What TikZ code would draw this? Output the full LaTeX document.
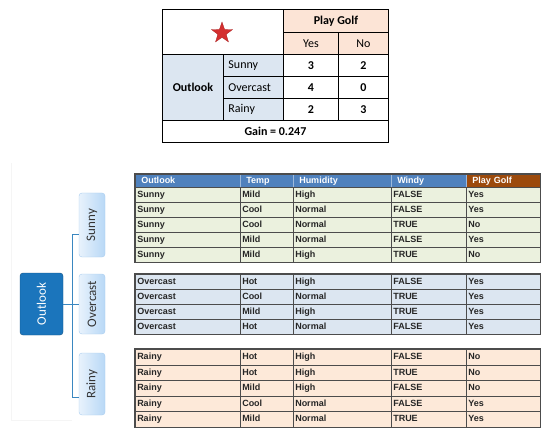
\documentclass[tikz,border=0pt]{standalone}
\usepackage{fontspec}
\setmainfont{Carlito}
\newfontfamily\arialfont{Liberation Sans}
\usetikzlibrary{shapes.geometric}
\definecolor{peach}{HTML}{FCE4D6}
\definecolor{paleblue}{HTML}{DCE6F1}
\definecolor{headblue}{HTML}{4F81BD}
\definecolor{headbrown}{HTML}{9C4A0C}
\definecolor{sunnyrow}{HTML}{EBF1DE}
\definecolor{overrow}{HTML}{DCE6F1}
\definecolor{rainyrow}{HTML}{FDE9D9}
\definecolor{rootblue}{HTML}{1B75BC}
\definecolor{branchblue}{HTML}{3A87C0}
\definecolor{leafleft}{HTML}{E8F2FC}
\definecolor{leafright}{HTML}{B8D8F6}
\definecolor{leafedge}{HTML}{A9CDEF}
\definecolor{starred}{HTML}{D42F2F}

\begin{document}
\begin{tikzpicture}[x=1pt,y=-1pt]
    \tikzstyle{cell}=[draw=black, line width=0.9pt, anchor=north west, inner sep=0pt, font=\bfseries\fontsize{12}{14}\selectfont]
    \tikzstyle{namecell}=[cell, fill=paleblue, minimum width=60, minimum height=22, inner xsep=5pt, text width=50pt, align=left, font=\fontsize{12}{14}\selectfont]
    \tikzstyle{headcell}=[draw=headblue!55!white, line width=0.5pt, anchor=north west, inner xsep=6pt, inner ysep=0pt, minimum height=13, align=left, text height=6.5pt, text depth=1.5pt, text=white, font=\arialfont\bfseries\fontsize{9}{10}\selectfont]
    \tikzstyle{datacell}=[draw=black!70, line width=0.5pt, anchor=north west, inner xsep=2pt, inner ysep=0pt, align=left, text height=7pt, text depth=2pt, text=black!85, font=\arialfont\bfseries\fontsize{9}{10}\selectfont]
    \tikzstyle{frame}=[draw=black!70, line width=1.3pt]
    \tikzstyle{root}=[draw=rootblue!70!black, fill=rootblue, rounded corners=3pt, minimum width=43, minimum height=62, inner sep=0pt, text=white, font=\fontsize{13}{15}\selectfont]
    \tikzstyle{leaf}=[draw=leafedge, left color=leafleft, right color=leafright, rounded corners=3pt, minimum width=26, inner sep=0pt, text=black!80, font=\fontsize{13}{15}\selectfont]
    \tikzstyle{branch}=[draw=branchblue, line width=1pt]

    \useasboundingbox (0,0) rectangle (552,433);

    % Draw the summary table
    \node[cell, minimum width=121, minimum height=45] (corner) at (162,9) {};
    \node[star, star points=5, star point ratio=2.5, fill=starred, draw=starred!80!black, line width=0.3pt, minimum size=22, inner sep=0pt] (mark) at (222,33) {};
    \node[cell, fill=peach, minimum width=105, minimum height=23] (golf) at (283,9) {Play Golf};
    \node[cell, fill=peach, minimum width=55, minimum height=22, font=\fontsize{12}{14}\selectfont] (yes) at (283,32) {Yes};
    \node[cell, fill=peach, minimum width=50, minimum height=22, font=\fontsize{12}{14}\selectfont] (no) at (338,32) {No};
    \node[cell, fill=paleblue, minimum width=61, minimum height=66] (outlook) at (162,54) {Outlook};
    \foreach \val/\y/\ny/\nn [count=\i] in {Sunny/54/3/2, Overcast/76/4/0, Rainy/98/2/3} {
        \node[namecell] (val-\i) at (223,\y) {\val};
        \node[cell, minimum width=55, minimum height=22] (yes-\i) at (283,\y) {\ny};
        \node[cell, minimum width=50, minimum height=22] (no-\i) at (338,\y) {\nn};
    }
    \node[cell, minimum width=226, minimum height=22] (gain) at (162,120) {Gain = 0.247};

    % Draw the tree
    \draw[black!4, line width=0.8pt] (11,163) -- (11,420) -- (72,420);
    \node[root] (root) at (41.5,304) {\rotatebox{90}{Outlook}};
    \node[leaf, minimum height=64] (sunny) at (92,225) {\rotatebox{90}{Sunny}};
    \node[leaf, minimum height=60] (overcast) at (92,304) {\rotatebox{90}{Overcast}};
    \node[leaf, minimum height=62] (rainy) at (92,384) {\rotatebox{90}{Rainy}};

    % Connect the root with every branch
    \coordinate (fork) at ([xshift=9pt]root.east);
    \draw[branch] (root.east) -- (fork);
    \draw[branch] (fork) |- ([yshift=-9pt]sunny.west);
    \draw[branch] (fork) |- (overcast.west);
    \draw[branch] (fork) |- ([yshift=-13pt]rainy.west);

    % Header of the data tables
    \foreach \txt/\x/\w/\hf [count=\c] in {Outlook/135/105/headblue, Temp/240/53/headblue, Humidity/293/98/headblue, Windy/391/75/headblue, Play Golf/466/74/headbrown} {
        \pgfmathsetmacro\tw{\w-12}
        \node[headcell, fill=\hf, text width=\tw pt] (hd-\c) at (\x,174) {\txt};
    }

    % Sunny rows
    \foreach \row [count=\r] in {{Sunny,Mild,High,FALSE,Yes},{Sunny,Cool,Normal,FALSE,Yes},{Sunny,Cool,Normal,TRUE,No},{Sunny,Mild,Normal,FALSE,Yes},{Sunny,Mild,High,TRUE,No}} {
        \foreach \txt [count=\c] in \row {
            \pgfmathsetmacro\cx{{135,240,293,391,466}[\c-1]}
            \pgfmathsetmacro\tw{{105,53,98,75,74}[\c-1]-4}
            \node[datacell, fill=sunnyrow, text width=\tw pt, minimum height=15] (S-\r-\c) at (\cx,{187+15*(\r-1)}) {\txt};
        }
    }
    \draw[frame] (hd-1.north west) rectangle (S-5-5.south east);

    % Overcast rows
    \foreach \row [count=\r] in {{Overcast,Hot,High,FALSE,Yes},{Overcast,Cool,Normal,TRUE,Yes},{Overcast,Mild,High,TRUE,Yes},{Overcast,Hot,Normal,FALSE,Yes}} {
        \foreach \txt [count=\c] in \row {
            \pgfmathsetmacro\cx{{135,240,293,391,466}[\c-1]}
            \pgfmathsetmacro\tw{{105,53,98,75,74}[\c-1]-4}
            \node[datacell, fill=overrow, text width=\tw pt, minimum height=15] (O-\r-\c) at (\cx,{274+15*(\r-1)}) {\txt};
        }
    }
    \draw[frame] (O-1-1.north west) rectangle (O-4-5.south east);

    % Rainy rows
    \foreach \row [count=\r] in {{Rainy,Hot,High,FALSE,No},{Rainy,Hot,High,TRUE,No},{Rainy,Mild,High,FALSE,No},{Rainy,Cool,Normal,FALSE,Yes},{Rainy,Mild,Normal,TRUE,Yes}} {
        \foreach \txt [count=\c] in \row {
            \pgfmathsetmacro\cx{{135,240,293,391,466}[\c-1]}
            \pgfmathsetmacro\tw{{105,53,98,75,74}[\c-1]-4}
            \node[datacell, fill=rainyrow, text width=\tw pt, minimum height=15.6] (R-\r-\c) at (\cx,{349+15.6*(\r-1)}) {\txt};
        }
    }
    \draw[frame] (R-1-1.north west) rectangle (R-5-5.south east);
\end{tikzpicture}
\end{document}
